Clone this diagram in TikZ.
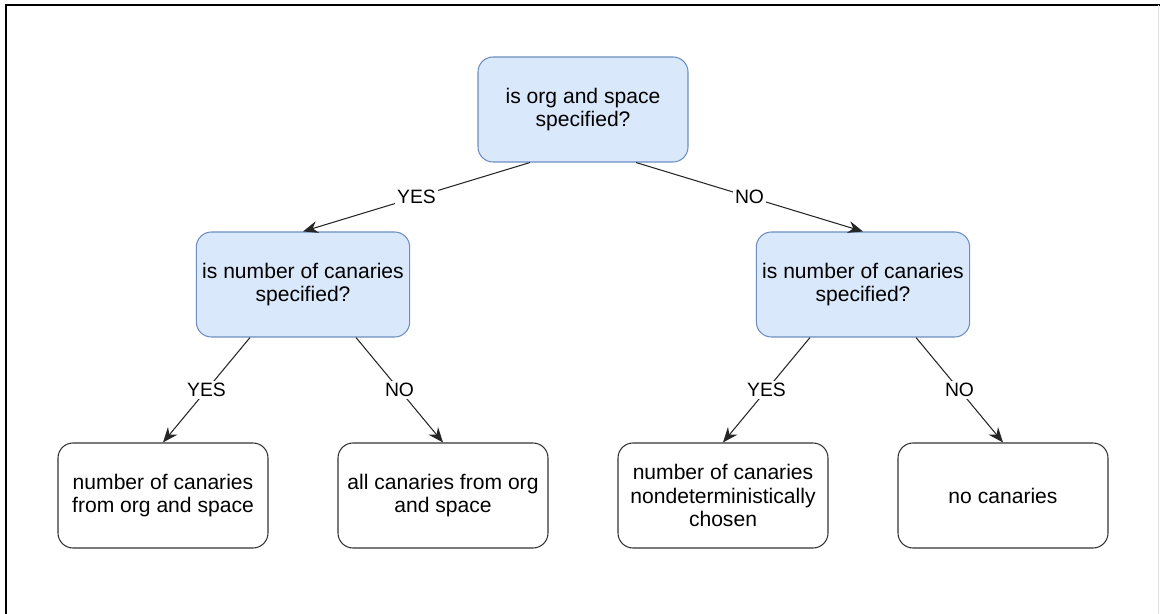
\documentclass[tikz,border=0pt]{standalone}
\usepackage{fontspec}
\setmainfont{Liberation Sans}
\usepackage{xcolor}
\usepackage{tikz}
\usetikzlibrary{arrows.meta,positioning}

\definecolor{qfill}{HTML}{DAE8FC}
\definecolor{qdraw}{HTML}{6C8EBF}

\begin{document}
\begin{tikzpicture}[on grid,
    box/.style={rectangle, rounded corners=0.3cm, minimum width=4.2cm,
      minimum height=2.1cm, align=center, line width=0.6pt,
      font=\fontsize{12}{13.5}\selectfont},
    question/.style={box, draw=qdraw, fill=qfill},
    answer/.style={box, draw=black!80},
    choice/.style={fill=white, inner sep=1pt, anchor=center, font=\fontsize{11}{12}\selectfont},
    link/.style={draw=black!85, line width=0.6pt, -{Stealth[length=3mm, width=2.4mm]}}]
  \useasboundingbox (0,0) rectangle (23.2,-12.28);
  % frame
  \draw[line width=1.2pt] (0.12,-12.28) -- (0.12,-0.1) -- (23.2,-0.1);
  \draw[black!12, line width=0.8pt] (23.17,-0.1) -- (23.17,-12.28);

  \node[question] (org) at (11.66,-2.19) {is org and space\\specified?};
  \node[question, below left=3.5cm and 5.6cm of org] (numL) {is number of canaries\\specified?};
  \node[question, below right=3.5cm and 5.6cm of org] (numR) {is number of canaries\\specified?};

  \node[answer, below left=4.22cm and 2.8cm of numL] (fromorg) {number of canaries\\from org and space};
  \node[answer, below right=4.22cm and 2.8cm of numL] (allorg) {all canaries from org\\and space};
  \node[answer, below left=4.22cm and 2.8cm of numR] (random) {number of canaries\\nondeterministically\\chosen};
  \node[answer, below right=4.22cm and 2.8cm of numR] (none) {no canaries};

  \path
    ([xshift=-1.06cm]org.south) edge[link] node[choice] {YES} (numL.north)
    ([xshift=1.06cm]org.south) edge[link] node[choice] {NO} (numR.north)
    ([xshift=-1.06cm]numL.south) edge[link] node[choice] {YES} (fromorg.north)
    ([xshift=1.06cm]numL.south) edge[link] node[choice] {NO} (allorg.north)
    ([xshift=-1.06cm]numR.south) edge[link] node[choice] {YES} (random.north)
    ([xshift=1.06cm]numR.south) edge[link] node[choice] {NO} (none.north);
\end{tikzpicture}
\end{document}
